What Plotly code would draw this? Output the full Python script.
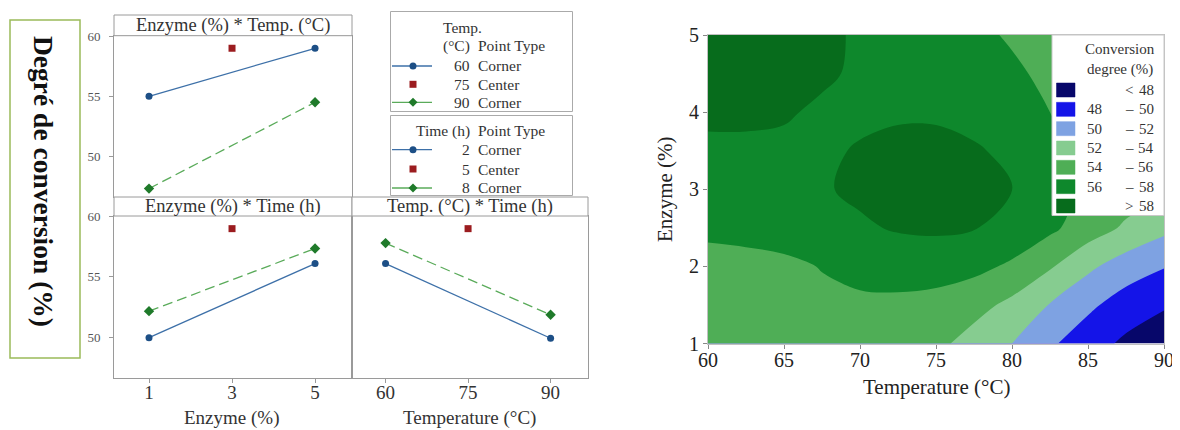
import plotly.graph_objects as go

# page body has an 8 px margin: the figure is sized and positioned to compensate
OFF = 8
W, H = 1180 - OFF, 430 - OFF
SERIF = "Liberation Serif"
FRAME = "#9a9a9a"

# ---------------- data: interaction plot ----------------
enzyme_corners = [1, 5]
temp_corners = [60, 90]
enzyme_center = [3]
temp_center = [75]
center_conv = [59.0]

conv_enz_temp60 = [55.0, 59.0]
conv_enz_temp90 = [47.3, 54.5]
conv_enz_time2 = [49.95, 56.1]
conv_enz_time8 = [52.15, 57.35]
conv_temp_time2 = [56.1, 49.9]
conv_temp_time8 = [57.8, 51.85]

conv_ticks = [50, 55, 60]
enzyme_ticks = [1, 3, 5]
temp_ticks = [60, 75, 90]

temp_legend_levels = ["60", "75", "90"]
time_legend_levels = ["2", "5", "8"]
point_types = ["Corner", "Center", "Corner"]

# ---------------- data: contour plot ----------------
grid_temp = [60, 62.5, 65, 67.5, 70, 72.5, 75, 77.5, 80, 82.5, 85, 87.5, 90]
grid_enzyme = [1, 1.5, 2, 2.5, 3, 3.5, 4, 4.5, 5]
conv_e10 = [55.0, 55.2, 55.3, 55.35, 55.35, 55.1, 54.5, 53.2, 52.0, 50.3, 48.9, 47.6, 46.8]
conv_e15 = [55.25, 55.45, 55.55, 55.6, 55.75, 55.7, 55.6, 54.7, 53.5, 51.9, 50.4, 49.1, 48.2]
conv_e20 = [55.35, 55.4, 55.62, 56.07, 56.4, 56.6, 56.5, 56.5, 55.7, 54.2, 52.4, 51.0, 50.1]
conv_e25 = [56.4, 56.6, 56.8, 57.2, 57.7, 58.2, 58.4, 58.1, 57.3, 56.4, 55.0, 53.7, 52.5]
conv_e30 = [57.3, 57.4, 57.6, 57.8, 58.4, 58.8, 58.9, 58.7, 58.05, 56.7, 55.6, 55.0, 54.6]
conv_e35 = [57.7, 57.7, 57.6, 57.6, 58.2, 58.6, 58.6, 58.2, 57.6, 56.4, 55.5, 55.0, 54.7]
conv_e40 = [58.3, 58.3, 58.2, 57.7, 57.5, 57.7, 57.7, 57.4, 56.9, 56.0, 55.3, 55.0, 54.8]
conv_e45 = [58.8, 58.8, 58.7, 58.3, 57.7, 57.3, 57.0, 56.7, 56.3, 55.6, 55.2, 54.9, 54.7]
conv_e50 = [59.2, 59.2, 59.0, 58.5, 57.7, 57.1, 56.7, 56.4, 55.8, 55.3, 55.0, 54.7, 54.5]
conv_surface = [conv_e10, conv_e15, conv_e20, conv_e25, conv_e30,
                conv_e35, conv_e40, conv_e45, conv_e50]

band_edges = [48, 50, 52, 54, 56, 58]
band_colors = ["#07076a", "#1414e8", "#7ea2e2", "#86cc90", "#4fae56", "#0e882c", "#076c1c"]
contour_xticks = [60, 65, 70, 75, 80, 85, 90]
contour_yticks = [1, 2, 3, 4, 5]


def fx(p):
    return (p - OFF) / W


def fy(p):
    return 1 - (p - OFF) / H


BLUE_LINE, BLUE_MK = "#3d70a8", "#1d4f86"
GREEN_LINE, GREEN_MK = "#5aab5a", "#1f7a2a"
RED_MK = "#9b1c1f"

fig = go.Figure()


def corner_line(x, y, xa, ya, green):
    fig.add_trace(go.Scatter(
        x=x, y=y, xaxis=xa, yaxis=ya, mode="lines+markers",
        line=dict(color=GREEN_LINE if green else BLUE_LINE, width=1.3,
                  dash="10px,5px" if green else "solid"),
        marker=dict(color=GREEN_MK if green else BLUE_MK,
                    size=8 if green else 7,
                    symbol="diamond" if green else "circle"),
        showlegend=False, hoverinfo="skip"))


def center_pt(x, y, xa, ya):
    fig.add_trace(go.Scatter(
        x=x, y=y, xaxis=xa, yaxis=ya, mode="markers",
        marker=dict(color=RED_MK, size=7, symbol="square"),
        showlegend=False, hoverinfo="skip"))


corner_line(enzyme_corners, conv_enz_temp60, "x", "y", False)
corner_line(enzyme_corners, conv_enz_temp90, "x", "y", True)
center_pt(enzyme_center, center_conv, "x", "y")

corner_line(enzyme_corners, conv_enz_time2, "x2", "y2", False)
corner_line(enzyme_corners, conv_enz_time8, "x2", "y2", True)
center_pt(enzyme_center, center_conv, "x2", "y2")

corner_line(temp_corners, conv_temp_time2, "x3", "y3", False)
corner_line(temp_corners, conv_temp_time8, "x3", "y3", True)
center_pt(temp_center, center_conv, "x3", "y3")

n_bands = len(band_colors)
fig.add_trace(go.Contour(
    x=grid_temp, y=grid_enzyme, z=conv_surface, xaxis="x4", yaxis="y4",
    contours=dict(start=band_edges[0], end=band_edges[-1],
                  size=band_edges[1] - band_edges[0], coloring="fill", showlines=False),
    colorscale=[[i / (n_bands - 1), c] for i, c in enumerate(band_colors)],
    line=dict(width=0, smoothing=1.0), showscale=False, hoverinfo="skip"))

# ---------------- axes ----------------
base = dict(showgrid=False, zeroline=False, showline=True, mirror=True,
            linecolor=FRAME, linewidth=1, automargin=False)
yr = [46.6, 60.05]
CR = 1164  # right edge of the contour plot (px)
fig.update_layout(
    xaxis=dict(base, domain=[fx(114), fx(352)], range=[0.157, 5.89], anchor="y",
               showticklabels=False, ticks=""),
    yaxis=dict(base, domain=[fy(197), fy(35.7)], range=yr, anchor="x",
               tickvals=conv_ticks, ticks="outside", ticklen=4, tickcolor=FRAME,
               ticklabelstandoff=6,
               tickfont=dict(family=SERIF, size=13, color="#555")),
    xaxis2=dict(base, domain=[fx(114), fx(352)], range=[0.157, 5.89], anchor="y2",
                tickvals=enzyme_ticks, ticks="outside", ticklen=4, tickcolor=FRAME,
                ticklabelstandoff=-7,
                tickfont=dict(family=SERIF, size=19, color="#333")),
    yaxis2=dict(base, domain=[fy(378), fy(216)], range=yr, anchor="x2",
                tickvals=conv_ticks, ticks="outside", ticklen=4, tickcolor=FRAME,
                ticklabelstandoff=6,
                tickfont=dict(family=SERIF, size=13, color="#555")),
    xaxis3=dict(base, domain=[fx(352), fx(588)], range=[53.9, 96.8], anchor="y3",
                tickvals=temp_ticks, ticks="outside", ticklen=4, tickcolor=FRAME,
                ticklabelstandoff=-7,
                tickfont=dict(family=SERIF, size=19, color="#333")),
    yaxis3=dict(base, domain=[fy(378), fy(216)], range=yr, anchor="x3",
                showticklabels=False, ticks=""),
    xaxis4=dict(base, domain=[fx(708), fx(CR)], range=[60, 90], anchor="y4",
                linecolor="#c0c0c0", tickvals=contour_xticks, ticks="outside",
                ticklen=4, tickcolor="#888", ticklabelstandoff=-6,
                ticklabeloverflow="allow",
                tickfont=dict(family=SERIF, size=20, color="#222")),
    yaxis4=dict(base, domain=[fy(343.6), fy(35)], range=[1, 5], anchor="x4",
                linecolor="#c0c0c0", tickvals=contour_yticks, ticks="outside",
                ticklen=4, tickcolor="#888",
                tickfont=dict(family=SERIF, size=20, color="#222")),
)

shapes = []
annotations = []


def rect(x0, y0, x1, y1, line="#9a9a9a", fill="rgba(0,0,0,0)", lw=1):
    shapes.append(dict(type="rect", xref="paper", yref="paper",
                       x0=fx(x0), x1=fx(x1), y0=fy(y1), y1=fy(y0),
                       line=dict(color=line, width=lw), fillcolor=fill))


def text(s, x, y, size, anchor="center", color="#222", bold=False, angle=0):
    annotations.append(dict(text="<b>%s</b>" % s if bold else s, x=fx(x), y=fy(y),
                            xref="paper", yref="paper", xanchor=anchor, yanchor="middle",
                            showarrow=False, textangle=angle,
                            font=dict(family=SERIF, size=size, color=color)))


# strips
rect(114, 15, 352, 35.7, fill="white")
rect(114, 197, 352, 216, fill="white")
rect(352, 197, 588, 216, fill="white")
text("Enzyme (%) * Temp. (°C)", 233, 25.6, 18.5, color="#333")
text("Enzyme (%) * Time (h)", 233, 206.8, 18.5, color="#333")
text("Temp. (°C) * Time (h)", 470, 206.8, 18.5, color="#333")

# axis titles of interaction plot
text("Enzyme (%)", 231, 418, 19, color="#333")
text("Temperature (°C)", 469, 418, 19, color="#333")

# y label box
rect(10, 20, 80, 358, line="#9bbb59", lw=1.5)
text("Degré de conversion (%)", 44, 181, 27.5, bold=True, color="#111", angle=90)


# legends of interaction plot
def glyph(kind, row):
    cx = 413
    if kind != "center":
        col = GREEN_LINE if kind == "green" else BLUE_LINE
        shapes.append(dict(type="line", xref="paper", yref="paper",
                           x0=fx(392), x1=fx(432), y0=fy(row), y1=fy(row),
                           line=dict(color=col, width=1.3)))
    if kind == "blue":
        shapes.append(dict(type="circle", xref="paper", yref="paper",
                           x0=fx(cx - 3.5), x1=fx(cx + 3.5), y0=fy(row + 3.5), y1=fy(row - 3.5),
                           fillcolor=BLUE_MK, line=dict(width=0)))
    elif kind == "center":
        shapes.append(dict(type="rect", xref="paper", yref="paper",
                           x0=fx(cx - 3.5), x1=fx(cx + 3.5), y0=fy(row + 3.5), y1=fy(row - 3.5),
                           fillcolor=RED_MK, line=dict(width=0)))
    else:
        d = 4.5
        path = "M %f,%f L %f,%f L %f,%f L %f,%f Z" % (
            fx(cx - d), fy(row), fx(cx), fy(row - d), fx(cx + d), fy(row), fx(cx), fy(row + d))
        shapes.append(dict(type="path", xref="paper", yref="paper", path=path,
                           fillcolor=GREEN_MK, line=dict(width=0)))


kinds = ["blue", "center", "green"]
rect(390.5, 11.5, 572.5, 111.5, line="#aaaaaa")
text("Temp.", 441, 27.7, 15.5, anchor="left", color="#333")
text("(°C)", 472, 45.7, 15.5, anchor="right", color="#333")
text("Point Type", 476, 45.7, 15.5, anchor="left", color="#333")
for i, row in enumerate([66, 84.3, 102.3]):
    glyph(kinds[i], row)
    text(temp_legend_levels[i], 472, row, 15.5, anchor="right", color="#333")
    text(point_types[i], 476, row, 15.5, anchor="left", color="#333")

rect(390.5, 115.5, 572.5, 195.5, line="#aaaaaa")
text("Time (h)", 472, 130.7, 15.5, anchor="right", color="#333")
text("Point Type", 476, 130.7, 15.5, anchor="left", color="#333")
for i, row in enumerate([149.7, 169, 188]):
    glyph(kinds[i], row)
    text(time_legend_levels[i], 472, row, 15.5, anchor="right", color="#333")
    text(point_types[i], 476, row, 15.5, anchor="left", color="#333")

# contour axis titles
text("Temperature (°C)", (708 + CR) / 2, 387, 21, color="#222")
text("Enzyme (%)", 665, 189, 21, color="#222", angle=-90)

# contour legend
rect(1052, 35, CR, 215.5, line="#c8c8c8", fill="white")
text("Conversion", 1120, 49, 15, color="#333")
text("degree (%)", 1120, 69, 15, color="#333")
labels = [("", "<", str(band_edges[0]))]
for lo, hi in zip(band_edges[:-1], band_edges[1:]):
    labels.append((str(lo), "–", str(hi)))
labels.append(("", ">", str(band_edges[-1])))
for k, (c, (a, mid, b)) in enumerate(zip(band_colors, labels)):
    row = 90 + 19.33 * k
    rect(1056.5, row - 7, 1075, row + 7, line=c, fill=c, lw=0.5)
    if a:
        text(a, 1085, row, 15, anchor="left", color="#333")
    text(mid, 1129, row, 15, color="#333")
    text(b, 1156, row, 15, anchor="right", color="#333")

fig.update_layout(
    width=W, height=H, margin=dict(l=0, r=0, t=0, b=0, autoexpand=False),
    paper_bgcolor="white", plot_bgcolor="white",
    shapes=shapes, annotations=annotations, showlegend=False,
    font=dict(family=SERIF),
)

fig.write_html("out.html")
